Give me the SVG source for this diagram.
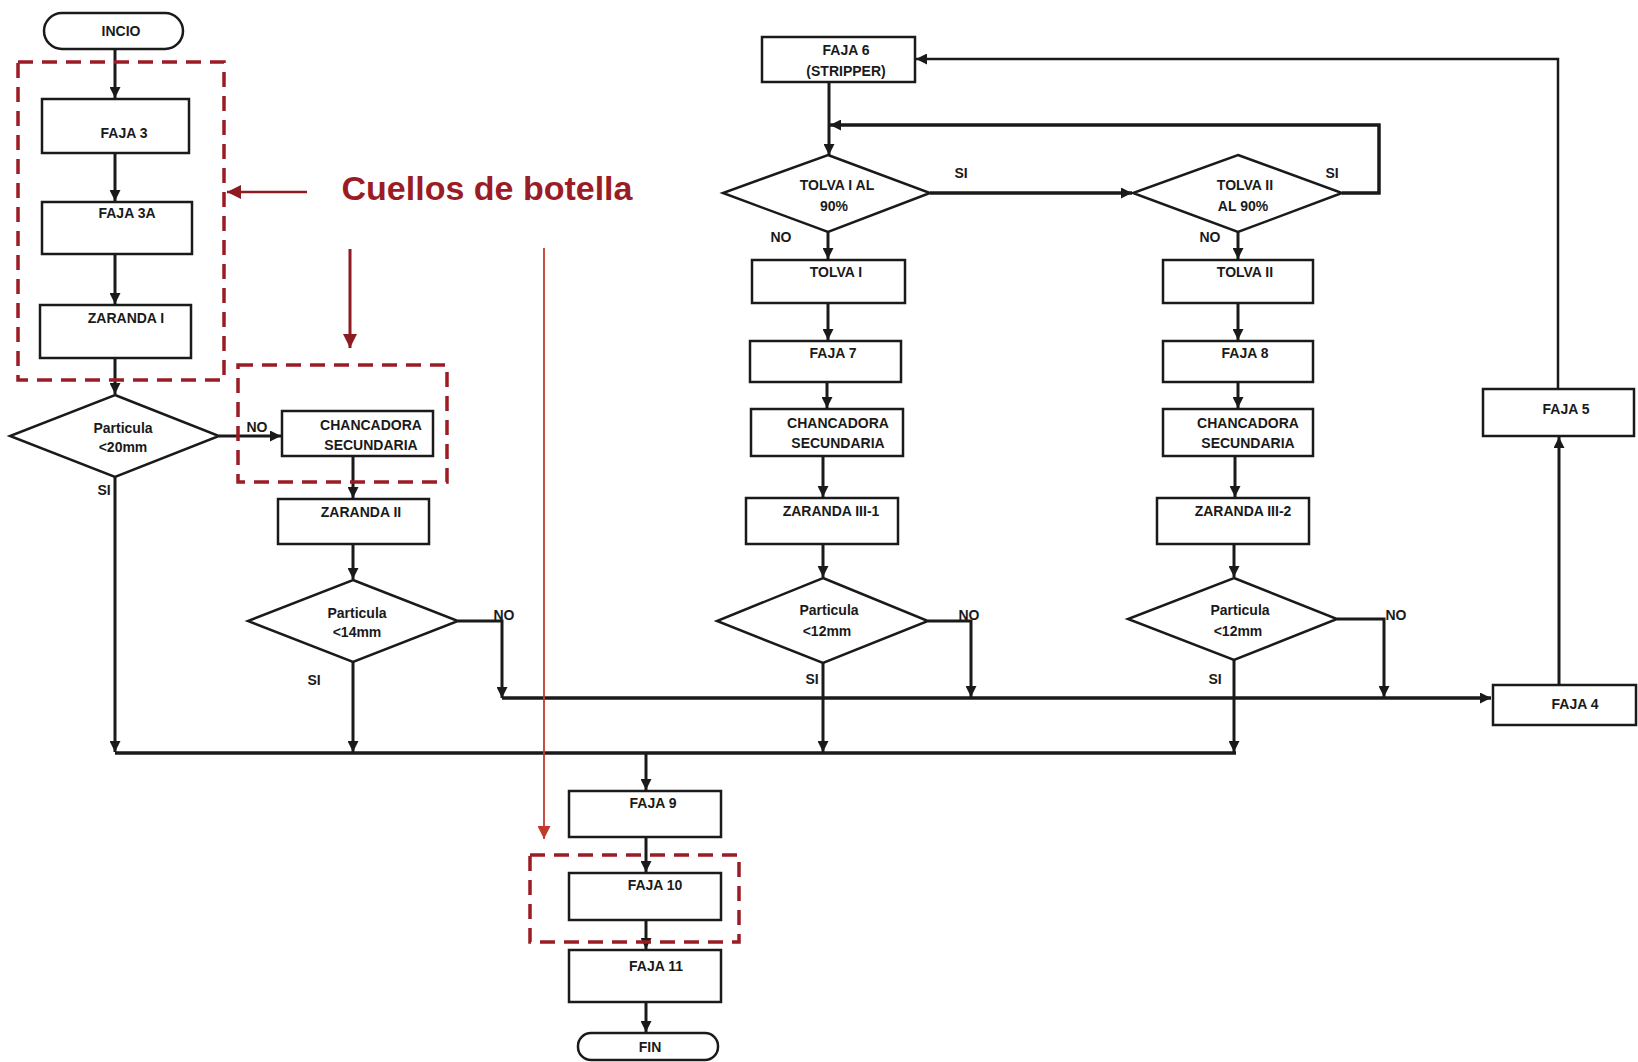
<svg xmlns="http://www.w3.org/2000/svg" width="1638" height="1062" viewBox="0 0 1638 1062">
<style>
.bx{fill:#fff;stroke:#1a1a1a;stroke-width:2.5}
.t{font-family:"Liberation Sans",Arial,sans-serif;font-weight:bold;font-size:14px;fill:#1a1a1a;text-anchor:middle}
.lb{font-family:"Liberation Sans",Arial,sans-serif;font-weight:bold;font-size:14px;fill:#1a1a1a;text-anchor:middle}
.c{fill:none;stroke:#1a1a1a;stroke-width:3}
.rd{fill:none;stroke:#9b1c25;stroke-width:3.5;stroke-dasharray:15 9}
</style>
<defs>
<marker id="ah" viewBox="0 0 10 10" refX="10" refY="5" markerWidth="11" markerHeight="11" markerUnits="userSpaceOnUse" orient="auto"><path d="M0,0 L10,5 L0,10 z" fill="#1a1a1a"/></marker>
<marker id="ahr" viewBox="0 0 10 10" refX="10" refY="5" markerWidth="14" markerHeight="14" markerUnits="userSpaceOnUse" orient="auto"><path d="M0,0 L10,5 L0,10 z" fill="#8e1a22"/></marker>
<marker id="aho" viewBox="0 0 10 10" refX="10" refY="5" markerWidth="13" markerHeight="13" markerUnits="userSpaceOnUse" orient="auto"><path d="M0,0 L10,5 L0,10 z" fill="#c0392b"/></marker>
</defs>
<rect width="1638" height="1062" fill="#fff"/>

<g id="connectors">
<path class="c" d="M115,49 V98" marker-end="url(#ah)"/>
<path class="c" d="M115,153 V201" marker-end="url(#ah)"/>
<path class="c" d="M115,254 V304" marker-end="url(#ah)"/>
<path class="c" d="M115,358 V394" marker-end="url(#ah)"/>
<path class="c" d="M219,436 H281" marker-end="url(#ah)"/>
<path class="c" d="M353,456 V498" marker-end="url(#ah)"/>
<path class="c" d="M353,544 V579" marker-end="url(#ah)"/>
<path class="c" d="M353,662 V752" marker-end="url(#ah)"/>
<path class="c" d="M115,477 V752" marker-end="url(#ah)"/>
<path class="c" d="M458,621 H502 V698" marker-end="url(#ah)"/>
<path class="c" style="stroke-width:3.5" d="M502,698 H1491" marker-end="url(#ah)"/>
<path class="c" style="stroke-width:3.5" d="M115,753 H1236"/>
<path class="c" d="M646,753 V790" marker-end="url(#ah)"/>
<path class="c" d="M646,837 V872" marker-end="url(#ah)"/>
<path class="c" d="M646,920 V949" marker-end="url(#ah)"/>
<path class="c" d="M646,1002 V1032" marker-end="url(#ah)"/>
<path class="c" d="M829,82 V155" marker-end="url(#ah)"/>
<path class="c" style="stroke-width:3.5" d="M1342,193 H1379 V125 H830" marker-end="url(#ah)"/>
<path class="c" style="stroke-width:3.5" d="M930,193 H1132" marker-end="url(#ah)"/>
<path class="c" d="M828,232 V259" marker-end="url(#ah)"/>
<path class="c" d="M828,303 V340" marker-end="url(#ah)"/>
<path class="c" d="M827,382 V408" marker-end="url(#ah)"/>
<path class="c" d="M823,456 V497" marker-end="url(#ah)"/>
<path class="c" d="M823,544 V577" marker-end="url(#ah)"/>
<path class="c" d="M823,663 V752" marker-end="url(#ah)"/>
<path class="c" d="M928,621 H971 V697" marker-end="url(#ah)"/>
<path class="c" d="M1238,232 V259" marker-end="url(#ah)"/>
<path class="c" d="M1238,303 V340" marker-end="url(#ah)"/>
<path class="c" d="M1238,382 V408" marker-end="url(#ah)"/>
<path class="c" d="M1235,456 V497" marker-end="url(#ah)"/>
<path class="c" d="M1234,544 V577" marker-end="url(#ah)"/>
<path class="c" d="M1234,660 V752" marker-end="url(#ah)"/>
<path class="c" d="M1337,619 H1384 V697" marker-end="url(#ah)"/>
<path class="c" d="M1559,685 V437" marker-end="url(#ah)"/>
<path class="c" style="stroke-width:2.5" d="M1558,389 V59 H916" marker-end="url(#ah)"/>
</g>

<g id="annotations">
<rect class="rd" x="18" y="62" width="206" height="318"/>
<rect class="rd" x="238" y="365" width="209" height="117"/>
<rect class="rd" x="530" y="855" width="209" height="87"/>
<path d="M307,192 H227" stroke="#8e1a22" stroke-width="2.5" fill="none" marker-end="url(#ahr)"/>
<path d="M350,249 V348" stroke="#8e1a22" stroke-width="3" fill="none" marker-end="url(#ahr)"/>
<path d="M544,248 V839" stroke="#c0392b" stroke-width="1.8" fill="none" marker-end="url(#aho)"/>
<text x="487" y="200" style="font-family:'Liberation Sans',Arial,sans-serif;font-weight:bold;font-size:34px;fill:#9b1c25;text-anchor:middle">Cuellos de botella</text>
</g>

<g id="inicio"><rect class="bx" x="44" y="13" width="139" height="36" rx="18"/><text class="t" x="121" y="36">INCIO</text></g>
<g id="faja3"><rect class="bx" x="42" y="99" width="147" height="54"/><text class="t" x="124" y="138">FAJA 3</text></g>
<g id="faja3a"><rect class="bx" x="42" y="202" width="150" height="52"/><text class="t" x="127" y="218">FAJA 3A</text></g>
<g id="zaranda1"><rect class="bx" x="40" y="305" width="151" height="53"/><text class="t" x="126" y="323">ZARANDA I</text></g>
<g id="dec20"><polygon class="bx" points="115,395 219,436 115,477 10,436"/><text class="t" x="123" y="433">Particula</text><text class="t" x="123" y="452">&lt;20mm</text></g>
<g id="chanc1"><rect class="bx" x="282" y="411" width="151" height="45"/><text class="t" x="371" y="430">CHANCADORA</text><text class="t" x="371" y="450">SECUNDARIA</text></g>
<g id="zaranda2"><rect class="bx" x="278" y="499" width="151" height="45"/><text class="t" x="361" y="517">ZARANDA II</text></g>
<g id="dec14"><polygon class="bx" points="353,580 458,621 353,662 248,621"/><text class="t" x="357" y="618">Particula</text><text class="t" x="357" y="637">&lt;14mm</text></g>

<g id="faja6"><rect class="bx" x="762" y="37" width="153" height="45"/><text class="t" x="846" y="55">FAJA 6</text><text class="t" x="846" y="76">(STRIPPER)</text></g>
<g id="tolva1dec"><polygon class="bx" points="828,155 930,193 828,232 723,193"/><text class="t" x="837" y="190">TOLVA I AL</text><text class="t" x="834" y="211">90%</text></g>
<g id="tolva1"><rect class="bx" x="752" y="260" width="153" height="43"/><text class="t" x="836" y="277">TOLVA I</text></g>
<g id="faja7"><rect class="bx" x="750" y="341" width="151" height="41"/><text class="t" x="833" y="358">FAJA 7</text></g>
<g id="chanc2"><rect class="bx" x="751" y="409" width="152" height="47"/><text class="t" x="838" y="428">CHANCADORA</text><text class="t" x="838" y="448">SECUNDARIA</text></g>
<g id="zaranda31"><rect class="bx" x="746" y="498" width="152" height="46"/><text class="t" x="831" y="516">ZARANDA III-1</text></g>
<g id="dec12a"><polygon class="bx" points="823,578 928,621 823,663 717,621"/><text class="t" x="829" y="615">Particula</text><text class="t" x="827" y="636">&lt;12mm</text></g>

<g id="tolva2dec"><polygon class="bx" points="1238,155 1342,193 1238,232 1133,193"/><text class="t" x="1245" y="190">TOLVA II</text><text class="t" x="1243" y="211">AL 90%</text></g>
<g id="tolva2"><rect class="bx" x="1163" y="260" width="150" height="43"/><text class="t" x="1245" y="277">TOLVA II</text></g>
<g id="faja8"><rect class="bx" x="1163" y="341" width="150" height="41"/><text class="t" x="1245" y="358">FAJA 8</text></g>
<g id="chanc3"><rect class="bx" x="1163" y="409" width="150" height="47"/><text class="t" x="1248" y="428">CHANCADORA</text><text class="t" x="1248" y="448">SECUNDARIA</text></g>
<g id="zaranda32"><rect class="bx" x="1157" y="498" width="152" height="46"/><text class="t" x="1243" y="516">ZARANDA III-2</text></g>
<g id="dec12b"><polygon class="bx" points="1234,578 1337,619 1234,660 1128,619"/><text class="t" x="1240" y="615">Particula</text><text class="t" x="1238" y="636">&lt;12mm</text></g>

<g id="faja5"><rect class="bx" x="1483" y="389" width="151" height="47"/><text class="t" x="1566" y="414">FAJA 5</text></g>
<g id="faja4"><rect class="bx" x="1493" y="685" width="143" height="40"/><text class="t" x="1575" y="709">FAJA 4</text></g>

<g id="faja9"><rect class="bx" x="569" y="791" width="152" height="46"/><text class="t" x="653" y="808">FAJA 9</text></g>
<g id="faja10"><rect class="bx" x="569" y="873" width="152" height="47"/><text class="t" x="655" y="890">FAJA 10</text></g>
<g id="faja11"><rect class="bx" x="569" y="950" width="152" height="52"/><text class="t" x="656" y="971">FAJA 11</text></g>
<g id="fin"><rect class="bx" x="578" y="1033" width="140" height="27" rx="13"/><text class="t" x="650" y="1052">FIN</text></g>

<g id="labels">
<text class="lb" x="104" y="495">SI</text>
<text class="lb" x="257" y="432">NO</text>
<text class="lb" x="504" y="620">NO</text>
<text class="lb" x="314" y="685">SI</text>
<text class="lb" x="961" y="178">SI</text>
<text class="lb" x="781" y="242">NO</text>
<text class="lb" x="1332" y="178">SI</text>
<text class="lb" x="1210" y="242">NO</text>
<text class="lb" x="969" y="620">NO</text>
<text class="lb" x="812" y="684">SI</text>
<text class="lb" x="1396" y="620">NO</text>
<text class="lb" x="1215" y="684">SI</text>
</g>
</svg>
